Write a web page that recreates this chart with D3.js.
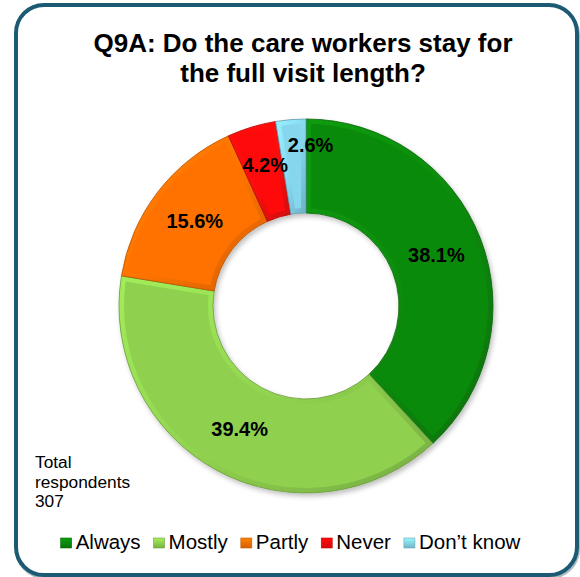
<!DOCTYPE html>
<html>
<head>
<meta charset="utf-8">
<script src="https://cdn.jsdelivr.net/npm/d3@7/dist/d3.min.js"></script>
<style>
  html, body { margin: 0; padding: 0; background: #ffffff; }
  svg { display: block; font-family: "Liberation Sans", Arial, sans-serif; }
</style>
</head>
<body>
<svg id="chart" width="580" height="577"></svg>
<script>
// Survey answers and their shares (%)
const categories = ["Always", "Mostly", "Partly", "Never", "Don\u2019t know"];
const percentages = [38.1, 39.4, 15.6, 4.2, 2.6];
const sliceColors = ["#0a8a0a", "#8fd14f", "#ff7200", "#ff0a0a", "#86d6ee"];
const titleLines = ["Q9A: Do the care workers stay for", "the full visit length?"];
const noteLines = ["Total", "respondents", "307"];

const svg = d3.select("#chart");
const cx = 306, cy = 306;
const outerR = 187, innerR = 93;
const bevel = 5;

const defs = svg.append("defs");

// soft shadow under the ring
const shadow = defs.append("filter").attr("id", "ringShadow")
  .attr("x", "-20%").attr("y", "-20%").attr("width", "140%").attr("height", "140%");
shadow.append("feDropShadow").attr("dx", 2).attr("dy", 3).attr("stdDeviation", 2.5)
  .attr("flood-color", "#000").attr("flood-opacity", 0.25);

// bevel gradients: slightly lighter rim at the top-left, darker rim at the bottom-right
sliceColors.forEach((c, i) => {
  const g = defs.append("linearGradient").attr("id", "bev" + i)
    .attr("x1", "0").attr("y1", "0").attr("x2", "1").attr("y2", "1");
  g.append("stop").attr("offset", "0%").attr("stop-color", d3.color(c).brighter(0.35));
  g.append("stop").attr("offset", "50%").attr("stop-color", d3.color(c).brighter(0.05));
  g.append("stop").attr("offset", "100%").attr("stop-color", d3.color(c).darker(0.55));
  const s = defs.append("linearGradient").attr("id", "sw" + i)
    .attr("x1", "0").attr("y1", "0").attr("x2", "0").attr("y2", "1");
  s.append("stop").attr("offset", "0%").attr("stop-color", d3.color(c).brighter(0.4));
  s.append("stop").attr("offset", "100%").attr("stop-color", d3.color(c).darker(0.5));
});

// frame
svg.append("rect")
  .attr("x", 17).attr("y", 7).attr("width", 561).attr("height", 570)
  .attr("rx", 28).attr("fill", "none")
  .attr("stroke", "#0f3c4f").attr("stroke-opacity", 0.35).attr("stroke-width", 4);
svg.append("rect")
  .attr("x", 16).attr("y", 5).attr("width", 561).attr("height", 570)
  .attr("rx", 28).attr("fill", "#ffffff")
  .attr("stroke", "#1b5a72").attr("stroke-width", 4);

// title
svg.append("text")
  .attr("text-anchor", "middle")
  .attr("font-weight", "bold").attr("font-size", 26).attr("fill", "#000")
  .selectAll("tspan").data(titleLines).join("tspan")
  .attr("x", 303).attr("y", (d, i) => 52 + i * 30)
  .text(d => d);

// donut
const data = categories.map((c, i) => ({ name: c, value: percentages[i], idx: i }));
const pie = d3.pie().value(d => d.value).sort(null);
const arcs = pie(data);

const arcOuter = d3.arc().innerRadius(innerR).outerRadius(outerR);
const arcInner = d3.arc().innerRadius(innerR + bevel).outerRadius(outerR - bevel)
  .padRadius(outerR).padAngle(2 * bevel / outerR);

const ring = svg.append("g").attr("transform", `translate(${cx},${cy})`);
const base = ring.append("g").attr("filter", "url(#ringShadow)");
base.selectAll("path.bevel").data(arcs).join("path")
  .attr("class", "bevel")
  .attr("d", arcOuter)
  .attr("fill", d => `url(#bev${d.data.idx})`)
  .attr("stroke", d => d3.color(sliceColors[d.data.idx]).darker(0.9))
  .attr("stroke-width", 0.8);
ring.selectAll("path.face").data(arcs).join("path")
  .attr("class", "face")
  .attr("d", arcInner)
  .attr("fill", d => sliceColors[d.data.idx]);

// value labels at slice centroids; the two thin slices are lifted apart
const labelArc = d3.arc().innerRadius(innerR).outerRadius(outerR);
const nudge = { 3: [0, -7], 4: [16, -22] };
ring.selectAll("text.val").data(arcs).join("text")
  .attr("class", "val")
  .attr("transform", d => {
    const [x, y] = labelArc.centroid(d);
    const [nx, ny] = nudge[d.data.idx] || [0, 0];
    return `translate(${x + nx},${y + ny})`;
  })
  .attr("text-anchor", "middle").attr("dy", "0.36em")
  .attr("font-weight", "bold").attr("font-size", 20).attr("fill", "#000")
  .text(d => d3.format(".1f")(d.data.value) + "%");

// respondent note
svg.append("text")
  .attr("font-size", 17.3).attr("fill", "#000")
  .selectAll("tspan").data(noteLines).join("tspan")
  .attr("x", 35).attr("y", (d, i) => 468 + i * 19.5)
  .text(d => d);

// legend
const legend = svg.append("g");
const items = legend.selectAll("g").data(data).join("g");
items.append("rect")
  .attr("y", 538).attr("width", 11).attr("height", 10)
  .attr("fill", d => `url(#sw${d.idx})`)
  .attr("stroke", d => d3.color(sliceColors[d.idx]).darker(0.7)).attr("stroke-width", 0.6);
items.append("text")
  .attr("x", 15).attr("y", 548.5)
  .attr("font-size", 20.5).attr("fill", "#000")
  .text(d => d.name);
let xPos = 0;
const gap = 13;
items.each(function () {
  const g = d3.select(this);
  const w = 15 + g.select("text").node().getComputedTextLength();
  g.attr("transform", `translate(${xPos},0)`);
  xPos += w + gap;
});
const total = xPos - gap;
legend.attr("transform", `translate(${290.5 - total / 2},0)`);
</script>
</body>
</html>
